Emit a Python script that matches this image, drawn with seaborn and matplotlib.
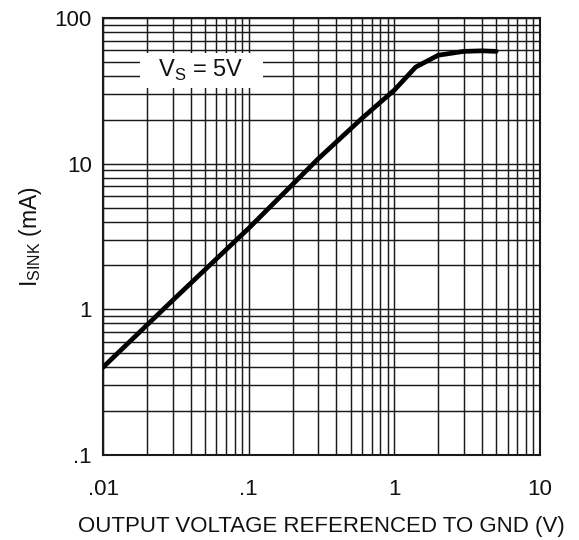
import numpy as np
import pandas as pd
import matplotlib
matplotlib.use("Agg")
import matplotlib.pyplot as plt
import matplotlib.ticker as mticker
from matplotlib.patches import Rectangle
import seaborn as sns

# curve
v_out = [0.01, 0.03, 0.1, 0.3, 0.6, 1.0, 1.4, 2.0, 3.0, 4.0, 5.0]
i_sink = [0.4, 1.15, 3.6, 10.8, 20.5, 32.0, 46.0, 55.5, 59.0, 59.5, 59.0]

x_ticks = [0.01, 0.1, 1, 10]
x_labels = [".01", ".1", "1", "10"]
y_ticks = [0.1, 1, 10, 100]
y_labels = [".1", "1", "10", "100"]

df = pd.DataFrame({"v": v_out, "i": i_sink})

sns.set_style("white")
plt.rcParams["font.family"] = ["Liberation Sans", "DejaVu Sans"]

fig = plt.figure(figsize=(5.79, 5.40), dpi=100)
ax = fig.add_axes([0.1779, 0.1574, 0.7548, 0.8093])

ax.set_xscale("log")
ax.set_yscale("log")
ax.set_xlim(0.01, 10)
ax.set_ylim(0.1, 100)

# grid at every 1..9 of each decade
ax.xaxis.set_minor_locator(mticker.LogLocator(base=10, subs=np.arange(2, 10)))
ax.yaxis.set_minor_locator(mticker.LogLocator(base=10, subs=np.arange(2, 10)))
ax.grid(True, which="both", color="#1a1a1a", linewidth=1.05)
ax.set_axisbelow(True)

sns.lineplot(data=df, x="v", y="i", ax=ax, color="black", linewidth=3.4,
             zorder=3)

ax.set_xticks(x_ticks)
ax.set_xticklabels(x_labels)
ax.set_yticks(y_ticks)
ax.set_yticklabels(y_labels)
ax.xaxis.set_minor_formatter(mticker.NullFormatter())
ax.yaxis.set_minor_formatter(mticker.NullFormatter())
ax.tick_params(which="both", length=0, labelsize=16, colors="#111111")
ax.tick_params(axis="x", pad=17)
ax.tick_params(axis="y", pad=8)

for s in ax.spines.values():
    s.set_color("#1a1a1a")
    s.set_linewidth(1.5)

ax.set_xlabel("OUTPUT VOLTAGE REFERENCED TO GND (V)", fontsize=16,
              labelpad=12, color="#111111")
ax.set_ylabel(r"I$_{\mathregular{SINK}}$ (mA)", fontsize=16.5, labelpad=8,
              color="#111111")

# white label box over the grid
ax.add_patch(Rectangle((0.085, 0.840), 0.281, 0.080, transform=ax.transAxes,
                       facecolor="white", edgecolor="none", zorder=2.5))
ax.text(0.2243, 0.879, r"V$_{\mathregular{S}}$ = 5V", fontsize=17, ha="center",
        va="center", transform=ax.transAxes, zorder=4, color="#111111")

fig.savefig("out.png", dpi=100)
